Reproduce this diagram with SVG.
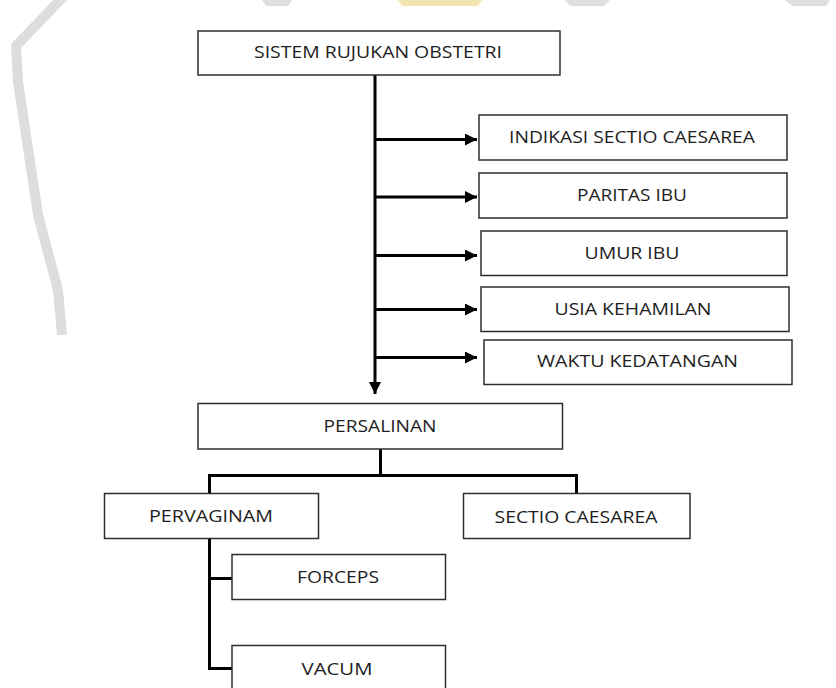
<svg xmlns="http://www.w3.org/2000/svg" width="836" height="688" viewBox="0 0 836 688">
  <defs>
    <style>
      .box { fill: #ffffff; stroke: #2e2e2e; stroke-width: 1.5; }
      .lbl { font-family: "Open Sans", "Liberation Sans", sans-serif; font-size: 17px; fill: #1e1e1e; text-anchor: middle; }
      .conn { fill: none; stroke: #000000; stroke-width: 3; }
      .wm { fill: none; stroke: #d9d9d9; stroke-width: 10; stroke-linejoin: round; }
    </style>
    <marker id="arrow" viewBox="0 0 10 10" refX="10" refY="5" markerWidth="4" markerHeight="4" markerUnits="strokeWidth" orient="auto">
      <path d="M0,0 L10,5 L0,10 Z" fill="#000000"/>
    </marker>
  </defs>

  <rect width="836" height="688" fill="#ffffff"/>

  <g id="watermark" opacity="0.9">
    <path class="wm" d="M64,-4 L16,46 L18,82 L38,215 L58,290 L62,335" />
    <path d="M262,0 L292,0 L288,6 L266,6 Z" fill="#dcdcdc"/>
    <path d="M398,0 L482,0 L478,6 L402,6 Z" fill="#efe3a6"/>
    <path d="M565,0 L610,0 L604,6 L570,6 Z" fill="#dcdcdc"/>
    <path d="M785,0 L830,0 L826,6 L792,6 Z" fill="#dcdcdc"/>
  </g>

  <g id="connectors">
    <line class="conn" x1="375" y1="75" x2="375" y2="394" marker-end="url(#arrow)"/>
    <line class="conn" x1="375" y1="139.5" x2="477" y2="139.5" marker-end="url(#arrow)"/>
    <line class="conn" x1="375" y1="197" x2="477" y2="197" marker-end="url(#arrow)"/>
    <line class="conn" x1="375" y1="255.5" x2="477" y2="255.5" marker-end="url(#arrow)"/>
    <line class="conn" x1="375" y1="309.5" x2="477" y2="309.5" marker-end="url(#arrow)"/>
    <line class="conn" x1="375" y1="357.5" x2="477" y2="357.5" marker-end="url(#arrow)"/>
    <path class="conn" d="M380.5,449 L380.5,475.5 M209.5,493 L209.5,475.5 L576.5,475.5 L576.5,493"/>
    <path class="conn" d="M209.5,538 L209.5,668.5 L232,668.5 M209.5,578.5 L232,578.5"/>
  </g>

  <g id="sistem">
    <rect class="box" x="198" y="31" width="362" height="44"/>
    <text class="lbl" x="378" y="58" textLength="248" lengthAdjust="spacingAndGlyphs">SISTEM RUJUKAN OBSTETRI</text>
  </g>
  <g id="indikasi">
    <rect class="box" x="479" y="115" width="308" height="45"/>
    <text class="lbl" x="632" y="143" textLength="246" lengthAdjust="spacingAndGlyphs">INDIKASI SECTIO CAESAREA</text>
  </g>
  <g id="paritas">
    <rect class="box" x="479" y="173" width="308" height="45"/>
    <text class="lbl" x="632" y="200.5" textLength="110" lengthAdjust="spacingAndGlyphs">PARITAS IBU</text>
  </g>
  <g id="umur">
    <rect class="box" x="481" y="231" width="306" height="44.5"/>
    <text class="lbl" x="632" y="259" textLength="95" lengthAdjust="spacingAndGlyphs">UMUR IBU</text>
  </g>
  <g id="usia">
    <rect class="box" x="481" y="287" width="308" height="44.5"/>
    <text class="lbl" x="633" y="315" textLength="157" lengthAdjust="spacingAndGlyphs">USIA KEHAMILAN</text>
  </g>
  <g id="waktu">
    <rect class="box" x="484" y="340" width="308" height="44.5"/>
    <text class="lbl" x="637.5" y="366.5" textLength="201" lengthAdjust="spacingAndGlyphs">WAKTU KEDATANGAN</text>
  </g>
  <g id="persalinan">
    <rect class="box" x="198" y="403.5" width="364.5" height="45.5"/>
    <text class="lbl" x="380" y="431.5" textLength="113" lengthAdjust="spacingAndGlyphs">PERSALINAN</text>
  </g>
  <g id="pervaginam">
    <rect class="box" x="104.5" y="493.5" width="214" height="45"/>
    <text class="lbl" x="211" y="521.5" textLength="124" lengthAdjust="spacingAndGlyphs">PERVAGINAM</text>
  </g>
  <g id="sectio">
    <rect class="box" x="463.5" y="493.5" width="226.5" height="45"/>
    <text class="lbl" x="576" y="522.5" textLength="163" lengthAdjust="spacingAndGlyphs">SECTIO CAESAREA</text>
  </g>
  <g id="forceps">
    <rect class="box" x="232" y="554.5" width="213.5" height="45"/>
    <text class="lbl" x="338" y="582.5" textLength="82" lengthAdjust="spacingAndGlyphs">FORCEPS</text>
  </g>
  <g id="vacum">
    <rect class="box" x="232" y="645.5" width="213.5" height="56"/>
    <text class="lbl" x="337" y="675" textLength="71" lengthAdjust="spacingAndGlyphs">VACUM</text>
  </g>
</svg>
